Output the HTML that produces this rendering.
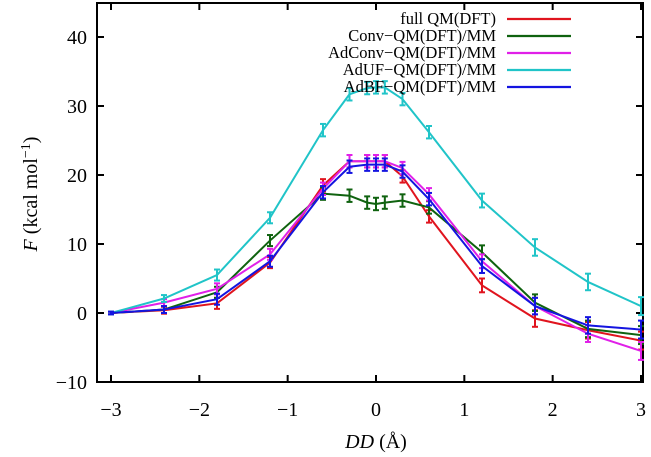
<!DOCTYPE html>
<html><head><meta charset="utf-8"><style>
body{margin:0;background:#fff}
svg{display:block;font-family:"Liberation Serif",serif}
</style></head><body>
<svg width="651" height="457" id="chart"></svg>
<script>
const xs=[-3,-2.4,-1.8,-1.2,-0.6,-0.3,-0.1,0,0.1,0.3,0.6,1.2,1.8,2.4,3];
const seriesNames=["full QM(DFT)","Conv\u2212QM(DFT)/MM","AdConv\u2212QM(DFT)/MM","AdUF\u2212QM(DFT)/MM","AdBF\u2212QM(DFT)/MM"];
const seriesColors=["#e0141e","#0f620f","#e020e8","#20c4c8","#1414e0"];
const fullQM=[0,0.4,1.4,7.3,18.5,22,22,22,22,19.8,14,4,-0.8,-2.5,-4];
const conv=[0,0.5,3,10.5,17.3,17,16,15.8,16,16.3,15.3,8.8,1.5,-2.3,-3.2];
const adConv=[0,1.5,3.5,8.5,18,22,22,22,22,21,17.2,7.5,1.0,-3,-5.5];
const adUF=[0,2.1,5.5,13.8,26.5,31.7,32.6,32.7,32.7,31,26.2,16.3,9.5,4.5,1.0];
const adBF=[0,0.5,2,7.5,17.5,21.2,21.5,21.5,21.5,20.5,16.5,6.8,1,-1.8,-2.4];
const errs=[0.2,0.5,0.8,0.8,0.9,0.9,0.9,0.9,0.9,0.9,0.9,1,1.2,1.2,1.3];
const xTicks=[-3,-2,-1,0,1,2,3];
const yTicks=[-10,0,10,20,30,40];
const all=[fullQM,conv,adConv,adUF,adBF];
const NS="http://www.w3.org/2000/svg";
const svg=document.getElementById('chart');
const X=v=>376+v*(640-110)/6;
const Y=v=>313-v*6.9;
function mk(t,a,p){const e=document.createElementNS(NS,t);for(const k in a)e.setAttribute(k,a[k]);(p||svg).appendChild(e);return e;}
const L=97,R=643,T=3,B=382;
const frame=mk('rect',{x:L,y:T,width:R-L,height:B-T,fill:'none',stroke:'#000','stroke-width':2});


xTicks.forEach(v=>{
 mk('line',{x1:X(v),x2:X(v),y1:B,y2:B-7,stroke:'#000','stroke-width':2});
 mk('line',{x1:X(v),x2:X(v),y1:T,y2:T+7,stroke:'#000','stroke-width':2});
 const t=mk('text',{x:X(v),y:416,'text-anchor':'middle','font-size':20});
 t.textContent=v<0?'\u2212'+(-v):String(v);
 
 
});
yTicks.forEach(v=>{
 mk('line',{x1:L,x2:L+7,y1:Y(v),y2:Y(v),stroke:'#000','stroke-width':2});
 mk('line',{x1:R,x2:R-7,y1:Y(v),y2:Y(v),stroke:'#000','stroke-width':2});
 const t=mk('text',{x:87,y:Y(v)+7,'text-anchor':'end','font-size':20});
 t.textContent=v<0?'\u2212'+(-v):String(v);
 
 
});
all.forEach((s,i)=>{
 const g=mk('g',{stroke:seriesColors[i],'stroke-width':2,fill:'none'});
 
 
 mk('polyline',{points:s.map((v,j)=>X(xs[j])+','+Y(v)).join(' ')},g);
 s.forEach((v,j)=>{
  const x=X(xs[j]),e=errs[j];
  mk('line',{x1:x,x2:x,y1:Y(v-e),y2:Y(v+e)},g);
  mk('line',{x1:x-3,x2:x+3,y1:Y(v-e),y2:Y(v-e)},g);
  mk('line',{x1:x-3,x2:x+3,y1:Y(v+e),y2:Y(v+e)},g);
 });
});
seriesNames.forEach((n,i)=>{
 const y=19+i*17;
 const g=mk('g',{});
 
 
 const t=mk('text',{x:496,y:y+5,'text-anchor':'end','font-size':16.5},g);
 t.textContent=n;
 mk('line',{x1:507,x2:571,y1:y,y2:y,stroke:seriesColors[i],'stroke-width':2.2},g);
});
const xt=mk('text',{x:376,y:448,'text-anchor':'middle','font-size':20});
xt.innerHTML='<tspan font-style="italic">DD</tspan> (Å)';


const yt=mk('text',{x:0,y:0,'text-anchor':'middle','font-size':20,transform:'translate(37,194) rotate(-90)'});
yt.innerHTML='<tspan font-style="italic">F</tspan> (kcal mol<tspan dy="-7" font-size="14">\u22121</tspan><tspan dy="7">)</tspan>';


</script>
</body></html>
